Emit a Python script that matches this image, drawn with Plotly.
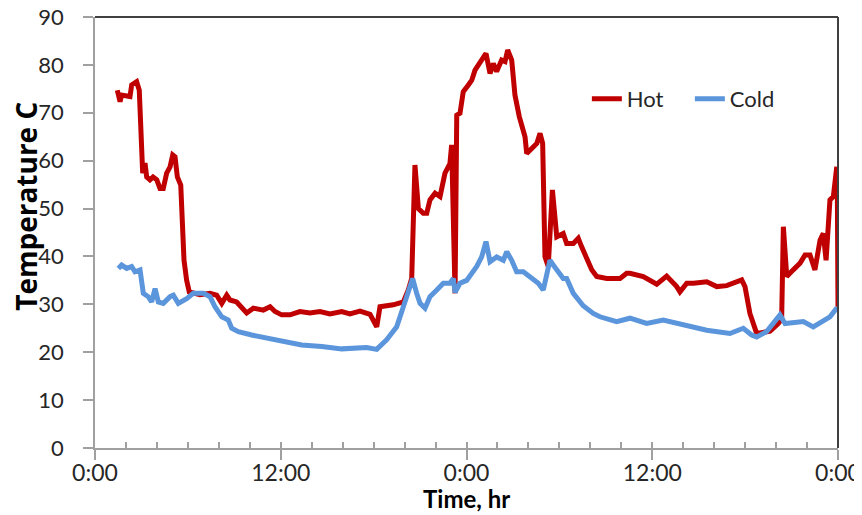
import plotly.graph_objects as go

# Time in hours since start (0:00 day 1 .. 0:00 day 3)
hot_time = [1.44, 1.62, 1.72, 2.26, 2.37, 2.69, 2.86, 3.02, 3.08, 3.23, 3.34, 3.55, 3.75, 3.99,
            4.20, 4.41, 4.63, 4.85, 5.02, 5.17, 5.32, 5.54, 5.67, 5.75, 5.92, 6.09, 6.78, 7.43,
            7.86, 8.19, 8.51, 8.72, 9.15, 9.80, 10.23, 10.87, 11.31, 11.63, 12.06, 12.60, 13.24,
            13.89, 14.53, 15.18, 15.94, 16.47, 17.12, 17.77, 18.20, 18.41, 19.27, 19.92, 20.24,
            20.46, 20.67, 20.89, 21.21, 21.43, 21.64, 21.97, 22.29, 22.61, 22.93, 23.04, 23.26,
            23.37, 23.58, 23.79, 24.12, 24.34, 24.55, 24.98, 25.26, 25.52, 25.73, 25.95, 26.27,
            26.49, 26.66, 26.92, 27.13, 27.41, 27.78, 27.89, 28.21, 28.54, 28.75, 28.92, 29.07,
            29.28, 29.55, 29.83, 30.25, 30.47, 30.90, 31.22, 31.44, 31.77, 32.09, 32.41, 33.06,
            33.92, 34.35, 34.56, 35.42, 36.29, 36.93, 37.58, 37.79, 38.23, 38.66, 39.52, 40.17,
            40.81, 41.78, 41.99, 42.31, 42.75, 43.61, 44.14, 44.36, 44.47, 44.69, 45.11, 45.55,
            45.87, 46.19, 46.51, 46.84, 47.05, 47.23, 47.48, 47.70, 47.92, 47.96, 48.0]
hot_temp = [74.7, 72.3, 73.7, 73.4, 75.8, 76.5, 74.7, 60.1, 57.4, 59.5, 56.6, 56.0, 56.6, 56.0,
            54.2, 54.2, 57.4, 58.7, 61.2, 60.8, 56.6, 54.9, 47.6, 39.2, 35.0, 32.6, 32.0, 32.3,
            31.9, 30.2, 31.9, 30.9, 30.5, 28.2, 29.2, 28.8, 29.5, 28.5, 27.8, 27.8, 28.5,
            28.2, 28.5, 28.0, 28.5, 28.0, 28.6, 27.9, 25.3, 29.5, 29.9, 30.5, 33.0,
            35.4, 59.1, 50.0, 49.0, 49.0, 51.8, 53.2, 52.5, 57.4, 59.4, 63.3, 32.3,
            69.5, 69.9, 74.4, 75.8, 76.8, 78.9, 81.0, 82.4, 78.2, 80.3, 78.6, 81.0,
            80.7, 83.1, 81.0, 73.7, 69.2, 65.0, 61.5, 62.6, 63.6, 65.7, 63.6, 39.9,
            37.9, 53.9, 44.1, 44.8, 42.7, 42.7, 43.8, 42.0, 39.2, 37.2, 35.8, 35.4,
            35.4, 36.5, 36.5, 35.8, 34.2, 35.9, 33.7, 32.6, 34.4, 34.4, 34.7, 33.7,
            33.9, 35.1, 33.7, 28.1, 23.9, 24.4, 26.0, 27.0, 46.2, 35.8, 37.2, 38.6,
            40.3, 40.3, 37.2, 43.4, 44.8, 39.2, 51.8, 52.5, 58.7, 52.0, 29.5]

cold_time = [1.51, 1.72, 2.05, 2.37, 2.58, 2.91, 3.12, 3.44, 3.66, 3.88, 4.09, 4.41, 4.85, 5.06,
             5.38, 5.92, 6.35, 7.00, 7.43, 7.75, 8.19, 8.61, 8.83, 9.26, 10.12, 11.20, 12.27,
             13.35, 14.65, 15.94, 17.55, 18.20, 18.84, 19.49, 19.92, 20.24, 20.52, 20.78, 21.00,
             21.32, 21.64, 22.08, 22.50, 22.93, 23.15, 23.26, 23.58, 24.01, 24.66, 24.98, 25.26,
             25.52, 25.95, 26.38, 26.60, 26.92, 27.24, 27.67, 28.10, 28.64, 28.96, 29.39, 29.83,
             30.25, 30.47, 30.90, 31.54, 32.19, 32.62, 33.70, 34.56, 35.64, 36.71, 38.23, 39.52,
             41.02, 41.88, 42.42, 42.75, 43.39, 44.25, 44.58, 45.76, 46.40, 47.05, 47.48, 47.92, 48.0]
cold_temp = [37.5, 38.2, 37.5, 37.9, 36.8, 37.2, 32.3, 31.6, 30.5, 33.3, 30.5, 30.2, 31.6, 31.9,
             30.2, 31.2, 32.3, 32.3, 31.6, 29.5, 27.4, 26.7, 25.0, 24.3, 23.6, 22.9, 22.2,
             21.5, 21.2, 20.7, 21.0, 20.6, 22.6, 25.3, 29.5, 33.0, 35.4, 32.3, 30.2,
             29.2, 31.6, 33.0, 34.4, 34.4, 35.4, 32.5, 34.4, 35.0, 37.9, 39.9, 43.1,
             38.9, 39.9, 39.2, 41.0, 39.2, 36.8, 36.8, 35.8, 34.4, 33.0, 39.2, 37.2,
             35.4, 35.4, 32.3, 29.7, 28.1, 27.4, 26.4, 27.1, 26.0, 26.7, 25.7, 24.6,
             23.9, 25.0, 23.6, 23.2, 24.3, 27.8, 26.0, 26.4, 25.3, 26.7, 27.4, 29.2, 28.5]

x_tick_labels = {"0": "0:00", "12": "12:00", "24": "0:00", "36": "12:00", "48": "0:00"}
y_tickvals = [0, 10, 20, 30, 40, 50, 60, 70, 80, 90]

FONT = "Lato"
TXT = "#262626"
AX = "#A0A0A0"

fig = go.Figure()
fig.add_trace(go.Scatter(x=hot_time, y=hot_temp, mode="lines", name="Hot",
                         line=dict(color="#C00000", width=5)))
fig.add_trace(go.Scatter(x=cold_time, y=cold_temp, mode="lines", name="Cold",
                         line=dict(color="#5B95DB", width=5)))
# transparent carrier so the minor-tick axis (x2) is drawn
fig.add_trace(go.Scatter(x=cold_time, y=cold_temp, xaxis="x2", mode="lines",
                         line=dict(width=0, color="rgba(0,0,0,0)"), opacity=0,
                         showlegend=False, hoverinfo="skip"))

# page body has an 8px offset; margins compensate so the plot lands at x 95-838, y 17-448
fig.update_layout(
    width=862, height=515,
    margin=dict(l=87, r=32, t=9, b=75, autoexpand=False),
    plot_bgcolor="white", paper_bgcolor="white",
    font=dict(family=FONT, size=22, color=TXT),
    showlegend=True,
    legend=dict(orientation="h", x=0.662, y=0.81, xanchor="left", yanchor="middle",
                font=dict(family=FONT, size=22, color=TXT), bgcolor="rgba(0,0,0,0)",
                itemwidth=30, entrywidth=58, entrywidthmode="pixels", tracegroupgap=0),
    xaxis=dict(range=[0, 48], tickmode="linear", tick0=0, dtick=12, labelalias=x_tick_labels,
               automargin=False, ticklabeloverflow="allow",
               showgrid=False, zeroline=False, showline=True, linecolor=AX, linewidth=1.5,
               ticks="outside", ticklen=10, tickcolor=AX, tickwidth=1.5,
               ticklabelstandoff=-6,
               tickfont=dict(family=FONT, size=23, color=TXT)),
    xaxis2=dict(range=[0, 48], overlaying="x", anchor="y", side="bottom",
                tickmode="linear", tick0=0, dtick=2, showticklabels=False,
                ticks="inside", ticklen=6, tickcolor=AX, tickwidth=1.5,
                showgrid=False, zeroline=False, showline=False, automargin=False),
    yaxis=dict(range=[0, 90], tickvals=y_tickvals, automargin=False, ticklabeloverflow="allow",
               showgrid=False, zeroline=False, showline=True, linecolor=AX, linewidth=1.5,
               ticks="outside", ticklen=10, tickcolor=AX, tickwidth=1.5,
               ticklabelstandoff=15,
               tickfont=dict(family=FONT, size=22, color=TXT)),
    shapes=[
        dict(type="line", xref="paper", yref="paper", x0=0, x1=1, y0=1, y1=1,
             line=dict(color="#404040", width=2)),
        dict(type="line", xref="paper", yref="paper", x0=1, x1=1, y0=0, y1=1,
             line=dict(color="#404040", width=2)),
    ],
    annotations=[
        dict(text="<b>Temperature C</b>", xref="paper", yref="paper", x=-0.094, y=0.56,
             textangle=-90, showarrow=False, font=dict(family="Open Sans", size=28, color="#000000"),
             xanchor="center", yanchor="middle"),
        dict(text="<b>Time, hr</b>", xref="paper", yref="paper", x=0.5, y=-0.117,
             showarrow=False, font=dict(family=FONT, size=24, color="#000000"),
             xanchor="center", yanchor="middle"),
    ],
)

fig.write_html("out.html")
